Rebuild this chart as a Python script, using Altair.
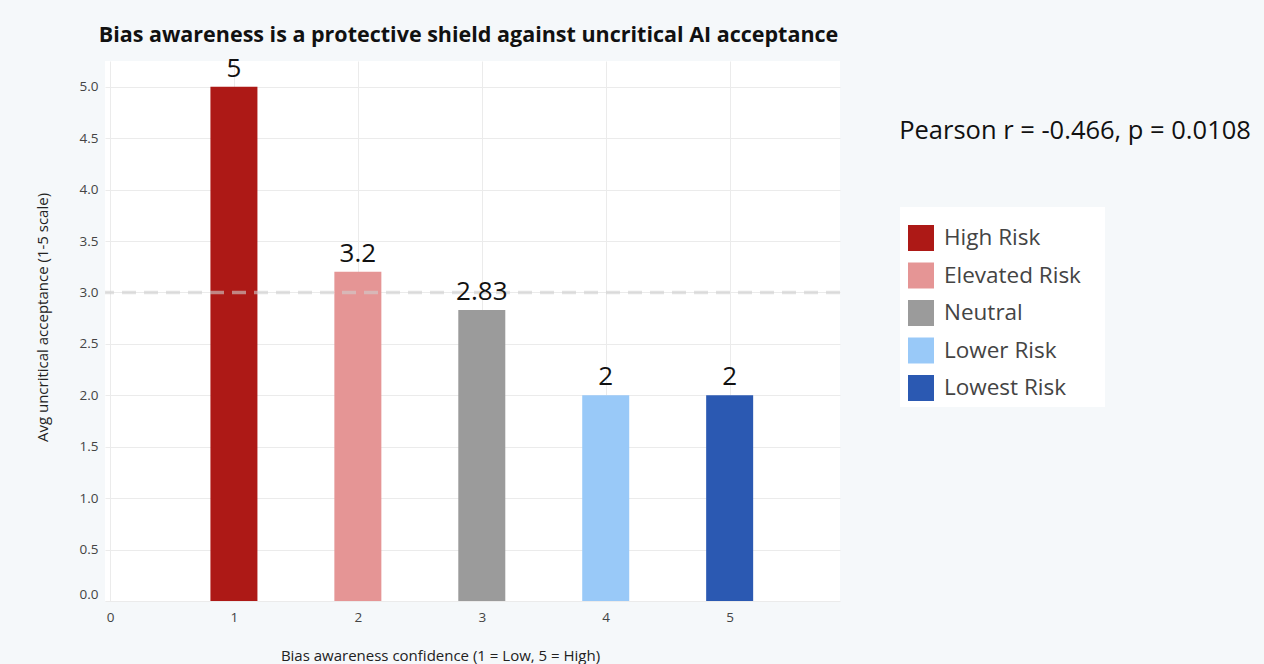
import altair as alt
import pandas as pd

# Bias awareness confidence levels and the mean uncritical-acceptance score for each
confidence = [1, 2, 3, 4, 5]
acceptance = [5.0, 3.2, 2.83, 2.0, 2.0]
risk_group = ["High Risk", "Elevated Risk", "Neutral", "Lower Risk", "Lowest Risk"]
risk_colors = ["#AD1916", "#E59595", "#9B9B9B", "#99C9F8", "#2B59B2"]

x_ticks = [0, 1, 2, 3, 4, 5]
y_ticks = [0.0, 0.5, 1.0, 1.5, 2.0, 2.5, 3.0, 3.5, 4.0, 4.5, 5.0]
neutral_level = [3.0]

pearson_r = -0.466
pearson_p = 0.0108

FONT = "Open Sans"

df = pd.DataFrame({
    "confidence": confidence,
    "acceptance": acceptance,
    "risk": risk_group,
})

x_enc = alt.X(
    "confidence:Q",
    scale=alt.Scale(domain=[0, 5.85], nice=False, zero=False),
    axis=alt.Axis(
        values=x_ticks, format="d",
        title="Bias awareness confidence (1 = Low, 5 = High)",
        titleFont=FONT, titleFontSize=15, titleFontWeight="normal", titleColor="#222222",
        titleX=335, titleY=54, titleAlign="center", titleBaseline="middle",
        labelFont=FONT, labelFontSize=13.5, labelColor="#444444", labelPadding=9,
        labelFlush=True,
        grid=True, gridColor="#ebebeb", gridWidth=1,
        domain=False, ticks=False,
    ),
)

y_enc = alt.Y(
    "acceptance:Q",
    scale=alt.Scale(domain=[0, 5.25], nice=False),
    axis=alt.Axis(
        values=y_ticks, format=".1f",
        title="Avg uncritical acceptance (1-5 scale)",
        titleFont=FONT, titleFontSize=15, titleFontWeight="normal", titleColor="#222222",
        titleX=-63, titleY=256, titleAlign="center", titleBaseline="middle", titleAngle=-90,
        labelFont=FONT, labelFontSize=13.5, labelColor="#444444", labelPadding=7,
        labelFlush=True,
        grid=True, gridColor="#ebebeb", gridWidth=1,
        domain=False, ticks=False,
    ),
)

# white card behind the legend entries
legend_card = alt.Chart(pd.DataFrame({"k": [0]})).mark_rect(color="white").encode(
    x=alt.value(795), x2=alt.value(1000), y=alt.value(146), y2=alt.value(346)
)

bars = alt.Chart(df).mark_bar(size=47).encode(
    x=x_enc,
    y=y_enc,
    color=alt.Color(
        "risk:N",
        scale=alt.Scale(domain=risk_group, range=risk_colors),
        legend=alt.Legend(
            title=None, orient="none", legendX=795, legendY=156,
            padding=8,
            symbolType="square", symbolSize=676, symbolStrokeWidth=0, symbolOpacity=1,
            labelFont=FONT, labelFontSize=22.5, labelColor="#444444", labelOffset=10,
            rowPadding=11.5, labelLimit=300,
        ),
        sort=risk_group,
    ),
)

labels = alt.Chart(df).mark_text(
    font=FONT, fontSize=26, color="#111111", baseline="bottom", dy=-5
).encode(
    x="confidence:Q",
    y="acceptance:Q",
    text=alt.Text("acceptance:Q", format=".3~g"),
)

ref_line = alt.Chart(pd.DataFrame({"level": neutral_level})).mark_rule(
    color="#cfcfcf", strokeWidth=3.5, strokeDash=[14, 8], opacity=0.6
).encode(y="level:Q")

stats_text = f"Pearson r = {pearson_r:.3f}, p = {pearson_p:.4f}"
stats = alt.Chart(pd.DataFrame({"t": [stats_text]})).mark_text(
    font=FONT, fontSize=25.5, color="#111111", align="center", baseline="middle"
).encode(
    text="t:N",
    x=alt.value(970),
    y=alt.value(70),
)

chart = alt.layer(legend_card, bars, ref_line, labels, stats).properties(
    width=735,
    height=540,
    padding={"left": 105, "top": 61, "right": 424, "bottom": 63},
    autosize=alt.AutoSizeParams(type="none"),
    background="#f5f8fa",
    title=alt.TitleParams(
        "Bias awareness is a protective shield against uncritical AI acceptance",
        font=FONT, fontSize=21.5, fontWeight="bold", color="#111111",
        anchor="middle", baseline="alphabetic", offset=17, dy=25, dx=-4,
    ),
).configure_view(
    fill="white", stroke=None
)

chart.save("out.html", embed_options={"renderer": "svg", "actions": False})
